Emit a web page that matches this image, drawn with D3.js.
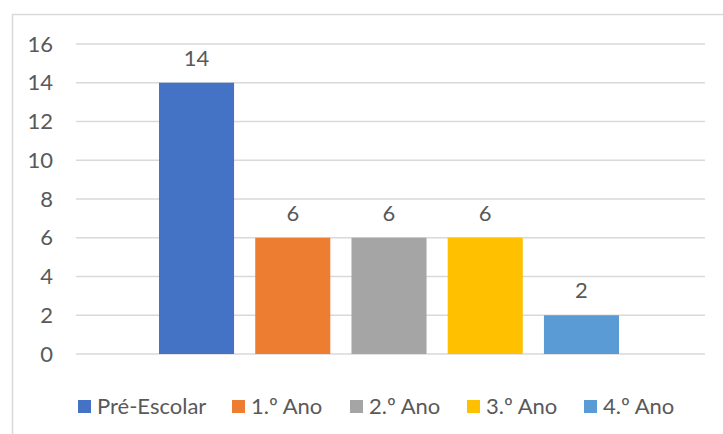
<!DOCTYPE html>
<html><head><meta charset="utf-8">
<script src="https://cdn.jsdelivr.net/npm/d3@7"></script>
<style>body{margin:0;background:#fff}svg{display:block}</style>
</head><body>
<svg id="c" width="723" height="434"></svg>
<script>
const series = ["Pré-Escolar", "1.º Ano", "2.º Ano", "3.º Ano", "4.º Ano"];
const values = [14, 6, 6, 6, 2];
const colors = ["#4472C4", "#ED7D31", "#A5A5A5", "#FFC000", "#5B9BD5"];
const yTicks = [0, 2, 4, 6, 8, 10, 12, 14, 16];

const svg = d3.select("#c");
const font = "Lato, 'Open Sans', sans-serif";
const txt = "#595959";
const fs = 22;

// chart border
svg.append("rect").attr("x", 12.5).attr("y", 14.5).attr("width", 720).attr("height", 430)
  .attr("fill", "none").attr("stroke", "#D9D9D9").attr("stroke-width", 1.5);

const plotL = 76, plotR = 705;
const y = d3.scaleLinear().domain([0, 16]).range([354, 44]);
const x = d3.scaleBand().domain(series).range([159, 619]).paddingInner(0.22).paddingOuter(0);

// gridlines
svg.append("g").selectAll("line").data(yTicks).join("line")
  .attr("x1", plotL).attr("x2", plotR)
  .attr("y1", d => y(d)).attr("y2", d => y(d))
  .attr("stroke", "#D9D9D9").attr("stroke-width", 1.5);

// y axis labels
const yAxis = d3.axisLeft(y).tickValues(yTicks).tickSize(0).tickPadding(0);
const ga = svg.append("g").attr("transform", `translate(53,0)`).call(yAxis);
ga.select(".domain").remove();
ga.selectAll("text").attr("font-family", font).attr("font-size", fs).attr("fill", txt);

// bars
svg.append("g").selectAll("rect").data(series).join("rect")
  .attr("x", d => x(d)).attr("width", x.bandwidth())
  .attr("y", (d, i) => y(values[i])).attr("height", (d, i) => y(0) - y(values[i]))
  .attr("fill", (d, i) => colors[i]);

// data labels
svg.append("g").selectAll("text").data(series).join("text")
  .attr("x", d => x(d) + x.bandwidth() / 2)
  .attr("y", (d, i) => y(values[i]) - 17)
  .attr("text-anchor", "middle")
  .attr("font-family", font).attr("font-size", fs).attr("fill", txt)
  .text((d, i) => values[i]);

// legend
const legX = [78, 232, 350, 467, 584];
const lg = svg.append("g").selectAll("g").data(series).join("g")
  .attr("transform", (d, i) => `translate(${legX[i]},400)`);
lg.append("rect").attr("width", 13).attr("height", 13).attr("fill", (d, i) => colors[i]);
lg.append("text").attr("x", 19).attr("y", 6.5).attr("dy", "0.35em")
  .attr("font-family", font).attr("font-size", fs).attr("fill", txt)
  .text(d => d);
</script>
</body></html>
